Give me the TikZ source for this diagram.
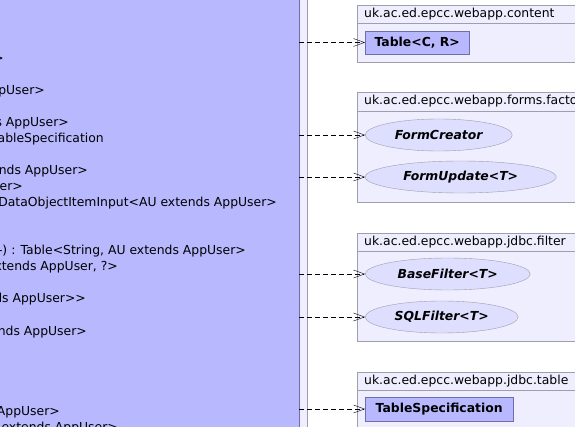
\documentclass[tikz,border=0pt]{standalone}
\usepackage{fontspec}
\setmainfont[Ligatures=TeXOff]{DejaVu Sans}
\usetikzlibrary{arrows.meta,shapes.geometric}
\definecolor{classfill}{RGB}{184,184,255}
\definecolor{classline}{RGB}{110,110,170}
\definecolor{pkgfill}{RGB}{238,238,255}
\definecolor{pkgline}{RGB}{158,158,172}
\definecolor{ifacefill}{RGB}{222,222,255}
\newcommand{\umlsize}{\fontsize{12.4}{15}\selectfont}
\tikzset{
  pkg/.style={draw=pkgline,fill=pkgfill},
  pkgtitle/.style={anchor=base west,inner sep=0pt},
  cls/.style={draw=classline,fill=classfill,font=\umlsize\bfseries,inner sep=0pt,anchor=west},
  iface/.style={ellipse,draw=pkgline,fill=ifacefill,font=\umlsize\bfseries\itshape,inner sep=0pt,anchor=west,minimum height=32pt},
  dep/.style={dash pattern=on 5pt off 3pt,-{Straight Barb[length=11pt,width=8pt]}},
  member/.style={anchor=base east,inner sep=0pt},
}
\begin{document}
\begin{tikzpicture}[x=1pt,y=-1pt,font=\umlsize]
  \useasboundingbox (0,0) rectangle (575,427);
  \clip (0,0) rectangle (575,427);
  % outer package and the big class
  \filldraw[pkg] (-20,-20) rectangle (307,447);
  \node[cls,anchor=north east,minimum width=340pt,minimum height=470pt] (user) at (299,-20) {};
  \node[member] (m1) at (4,63) {extends AppUser>};
  \node[member] (m2) at (45,95) {AppUser>};
  \node[member] (m3) at (69,127) {extends AppUser>};
  \node[member] (m4) at (104,143) {TableSpecification};
  \node[member] (m5) at (88,175) {extends AppUser>};
  \node[member] (m6) at (23,191) {AppUser>};
  \node[member] (m7) at (277,207) {. DataObjectItemInput<AU extends AppUser>};
  \node[member] (m8) at (246,255) {(...-) : Table<String, AU extends AppUser>};
  \node[member] (m9) at (118,271) {AU extends AppUser, ?>};
  \node[member] (m10) at (86,303) {AU extends AppUser>>};
  \node[member] (m11) at (87,335) {AU extends AppUser>};
  \node[member] (m12) at (60,415) {AppUser>};
  \node[member] (m13) at (118,431) {AU extends AppUser>};
  % package content
  \filldraw[pkg] (357,5) rectangle (600,62);
  \draw[pkgline] (357,23) -- (600,23);
  \node[pkgtitle] (p1) at (364,18) {uk.ac.ed.epcc.webapp.content};
  \node[cls,minimum width=104pt,minimum height=23pt] (table) at (365,42.5) {Table<C, R>};
  % package forms.factory
  \filldraw[pkg] (357,92) rectangle (600,202);
  \draw[pkgline] (357,111) -- (600,111);
  \node[pkgtitle] (p2) at (364,104.5) {uk.ac.ed.epcc.webapp.forms.factory};
  \node[iface,minimum width=147pt] (creator) at (365,135) {FormCreator};
  \node[iface,minimum width=191pt] (update) at (365,177) {FormUpdate<T>};
  % package jdbc.filter
  \filldraw[pkg] (357,233) rectangle (600,341);
  \draw[pkgline] (357,251) -- (600,251);
  \node[pkgtitle] (p3) at (364,245.5) {uk.ac.ed.epcc.webapp.jdbc.filter};
  \node[iface,minimum width=165pt] (basefilter) at (365,274) {BaseFilter<T>};
  \node[iface,minimum width=153pt] (sqlfilter) at (365,317) {SQLFilter<T>};
  % package jdbc.table
  \filldraw[pkg] (357,372) rectangle (600,447);
  \draw[pkgline] (357,390) -- (600,390);
  \node[pkgtitle] (p4) at (364,384.5) {uk.ac.ed.epcc.webapp.jdbc.table};
  \node[cls,minimum width=148pt,minimum height=24pt] (tablespec) at (365,409) {TableSpecification};
  % dependencies
  \draw[dep] (user.east |- table.west) -- (table.west);
  \draw[dep] (user.east |- creator.west) -- (creator.west);
  \draw[dep] (user.east |- update.west) -- (update.west);
  \draw[dep] (user.east |- basefilter.west) -- (basefilter.west);
  \draw[dep] (user.east |- sqlfilter.west) -- (sqlfilter.west);
  \draw[dep] (user.east |- tablespec.west) -- (tablespec.west);
\end{tikzpicture}
\end{document}
